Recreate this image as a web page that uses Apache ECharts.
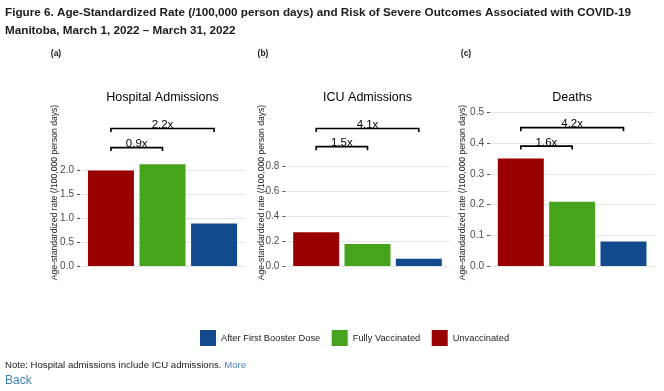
<!DOCTYPE html>
<html>
<head>
<meta charset="utf-8">
<script src="https://cdn.jsdelivr.net/npm/echarts@6/dist/echarts.min.js"></script>
<style>
html,body{margin:0;padding:0;background:#fff;}
#chart{width:664px;height:391px;}
</style>
</head>
<body>
<div id="chart"></div>
<script>
// ---- data ----
const categories = ['Unvaccinated', 'Fully Vaccinated', 'After First Booster Dose'];
const legendOrder = ['After First Booster Dose', 'Fully Vaccinated', 'Unvaccinated'];
const categoryX = [1, 2, 3];
const panelTitles = ['Hospital Admissions', 'ICU Admissions', 'Deaths'];
const panelTags = ['(a)', '(b)', '(c)'];
const hospitalRates = [2.0, 2.13, 0.89];
const icuRates = [0.27, 0.176, 0.058];
const deathRates = [0.35, 0.209, 0.08];
const yMaxes = [2.0, 0.8, 0.5];
const yIntervals = [0.5, 0.2, 0.1];
// brackets: [fromX, toX, height, label]
const hospitalBrackets = [[1, 2, 2.48, '0.9x'], [1, 3, 2.88, '2.2x']];
const icuBrackets = [[1, 2, 0.955, '1.5x'], [1, 3, 1.10, '4.1x']];
const deathBrackets = [[1, 2, 0.39, '1.6x'], [1, 3, 0.45, '4.2x']];

const headerLine1 = 'Figure 6. Age-Standardized Rate (/100,000 person days) and Risk of Severe Outcomes Associated with COVID-19';
const headerLine2 = 'Manitoba, March 1, 2022 \u2013 March 31, 2022';
const yAxisTitle = 'Age-standardized rate (/100,000 person days)';
const noteText = 'Note: Hospital admissions include ICU admissions.';

// ---- layout / style ----
const FONT = '"Liberation Sans", Arial, sans-serif';
const colors = {'Unvaccinated': '#990000', 'Fully Vaccinated': '#46a41c', 'After First Booster Dose': '#134a8d'};
const rates = [hospitalRates, icuRates, deathRates];
const brackets = [hospitalBrackets, icuBrackets, deathBrackets];
const zeroY = 266;
const grids = [
  {left: 80, width: 165, top: 170.5, height: zeroY - 170.5},
  {left: 285.4, width: 164.2, top: 166, height: zeroY - 166},
  {left: 490, width: 164.3, top: 112.3, height: zeroY - 112.3}
];
const axisTitleX = [55, 261.5, 462.5];
const tagX = [56, 263, 466];

const series = [];
const xAxes = [], yAxes = [];
grids.forEach((g, p) => {
  xAxes.push({type: 'value', gridIndex: p, min: 0.4, max: 3.6, show: false});
  yAxes.push({
    type: 'value', gridIndex: p, min: 0, max: yMaxes[p], interval: yIntervals[p],
    axisLine: {show: false},
    axisTick: {show: true, length: 3, lineStyle: {color: '#555', width: 1}},
    axisLabel: {color: '#4d4d4d', fontSize: 10, fontFamily: FONT, margin: 6,
      formatter: v => v.toFixed(1)},
    splitLine: {show: true, lineStyle: {color: '#e4e4e4', width: 1}}
  });
  categories.forEach((c, i) => {
    series.push({
      type: 'bar', name: c, xAxisIndex: p, yAxisIndex: p,
      data: [[categoryX[i], rates[p][i]]],
      barWidth: 46, barGap: '-100%', clip: false,
      itemStyle: {color: colors[c]},
      emphasis: {disabled: true}
    });
  });
  const br = brackets[p];
  series.push({
    type: 'custom', xAxisIndex: p, yAxisIndex: p, clip: false,
    data: br.map(b => [b[0], b[1], b[2]]),
    renderItem: (params, api) => {
      const x1 = api.value(0), x2 = api.value(1), y = api.value(2);
      const a = api.coord([categoryX[x1 - 1], y]);
      const b = api.coord([categoryX[x2 - 1], y]);
      const t = 3.5;
      return {
        type: 'group',
        children: [
          {type: 'polyline', shape: {points: [[a[0], a[1] + t], [a[0], a[1]], [b[0], b[1]], [b[0], b[1] + t]]},
            style: {stroke: '#000', lineWidth: 1.6, fill: null}},
          {type: 'text', x: (a[0] + b[0]) / 2, y: a[1] + 2.5,
            style: {text: br[params.dataIndex][3], fill: '#000', font: '11.5px ' + FONT,
              textAlign: 'center', textVerticalAlign: 'bottom'}}
        ]
      };
    }
  });
});

const graphics = [
  {type: 'text', x: 5, y: 13, style: {text: headerLine1, font: 'bold 11.7px ' + FONT, fill: '#1a1a1a', textVerticalAlign: 'middle'}},
  {type: 'text', x: 5, y: 31, style: {text: headerLine2, font: 'bold 11.7px ' + FONT, fill: '#1a1a1a', textVerticalAlign: 'middle'}},
  {type: 'text', x: 5, y: 365, style: {
    text: noteText + ' {m|More}', font: '9.6px ' + FONT, fill: '#222', textVerticalAlign: 'middle',
    rich: {m: {fill: '#4a86c5', font: '9.6px ' + FONT}}}},
  {type: 'text', x: 5, y: 381, style: {text: 'Back', font: '12px ' + FONT, fill: '#3f7fbf', textVerticalAlign: 'middle'}}
];
grids.forEach((g, p) => {
  graphics.push({type: 'text', x: g.left + g.width / 2, y: 98, style: {text: panelTitles[p], font: '12.5px ' + FONT, fill: '#000', textAlign: 'center', textVerticalAlign: 'middle'}});
  graphics.push({type: 'text', x: tagX[p], y: 54, style: {text: panelTags[p], font: 'bold 8.5px ' + FONT, fill: '#1a1a1a', textAlign: 'center', textVerticalAlign: 'middle'}});
  graphics.push({type: 'text', x: axisTitleX[p], y: 192.5, rotation: Math.PI / 2,
    style: {text: yAxisTitle, font: '8.6px ' + FONT, fill: '#222', textAlign: 'center', textVerticalAlign: 'middle'}});
});

const chart = echarts.init(document.getElementById('chart'), null, {renderer: 'canvas'});
chart.setOption({
  animation: false,
  backgroundColor: '#fff',
  grid: grids.map(g => Object.assign({containLabel: false}, g)),
  xAxis: xAxes,
  yAxis: yAxes,
  legend: {
    data: legendOrder, left: 200, top: 330, padding: 0,
    itemWidth: 16, itemHeight: 16, itemGap: 11.5, icon: 'rect',
    textStyle: {fontSize: 9.3, color: '#222', fontFamily: FONT},
    selectedMode: false
  },
  graphic: graphics,
  series: series
});
</script>
</body>
</html>
